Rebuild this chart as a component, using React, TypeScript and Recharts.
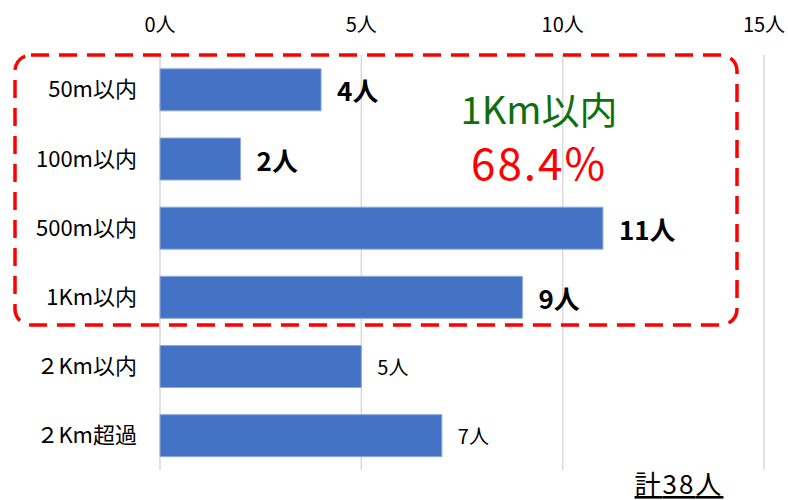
import { BarChart, Bar, XAxis, YAxis, CartesianGrid, LabelList } from 'recharts'

const FONT = '"Noto Sans CJK JP", sans-serif'

const categories = ['50m以内', '100m以内', '500m以内', '1Km以内', '２Km以内', '２Km超過']
const counts = [4, 2, 11, 9, 5, 7]
// rows inside the red dashed box get bold labels
const highlighted = [true, true, true, true, false, false]
const xTicks = [0, 5, 10, 15]
const total = 38
const boxTitle = '1Km以内'
const boxShare = '68.4%'

const data = categories.map((name, i) => ({ name, count: counts[i], hl: highlighted[i] }))

function CountLabel(props: any) {
  const { x, y, width, height, value, index } = props
  const bold = data[index]?.hl
  return (
    <text
      x={Number(x) + Number(width) + 16}
      y={Number(y) + Number(height) / 2}
      dominantBaseline="central"
      fontSize={bold ? 26 : 20}
      fontWeight={bold ? 700 : 400}
      fontFamily={FONT}
      fill="#000"
    >
      {value}人
    </text>
  )
}

export default function App() {
  return (
    <div style={{ position: 'absolute', left: 0, top: 0, width: 788, height: 500, background: '#fff' }}>
      <BarChart
        width={788}
        height={500}
        data={data}
        layout="vertical"
        margin={{ top: 25, right: 24, bottom: 30, left: 15 }}
        barCategoryGap="20%"
      >
        <CartesianGrid horizontal={false} stroke="#D9D9D9" strokeWidth={1.5} />
        <XAxis
          type="number"
          orientation="top"
          domain={[0, 15]}
          ticks={xTicks}
          height={30}
          axisLine={false}
          tickLine={false}
          tickSize={0}
          tickMargin={23}
          tickFormatter={(v: number) => `${v}人`}
          tick={{ fontSize: 20, fill: '#000', fontFamily: FONT }}
        />
        <YAxis
          type="category"
          dataKey="name"
          width={145}
          axisLine={false}
          tickLine={false}
          tickSize={0}
          tickMargin={23}
          tick={{ fontSize: 22, fill: '#000', fontFamily: FONT }}
        />
        <Bar dataKey="count" fill="#4472C4" stroke="#8FAADC" strokeWidth={1} isAnimationActive={false}>
          <LabelList dataKey="count" content={CountLabel} />
        </Bar>
      </BarChart>
      <svg width={788} height={500} style={{ position: 'absolute', left: 0, top: 0, pointerEvents: 'none' }}>
        <rect
          x={15}
          y={55}
          width={722}
          height={270}
          rx={16}
          fill="none"
          stroke="#FF0000"
          strokeWidth={3.5}
          strokeDasharray="18 10"
        />
        <text x={539} y={124} textAnchor="middle" fontSize={38} fontFamily={FONT} fill="#0F6F0F">
          {boxTitle}
        </text>
        <text x={539} y={180} textAnchor="middle" fontSize={44} fontFamily={FONT} fill="#FF0000" letterSpacing={2}>
          {boxShare}
        </text>
        <text x={679} y={494} textAnchor="middle" fontSize={26} fontFamily={FONT} fill="#000" textDecoration="underline" letterSpacing={2}>
          計{total}人
        </text>
      </svg>
    </div>
  )
}
